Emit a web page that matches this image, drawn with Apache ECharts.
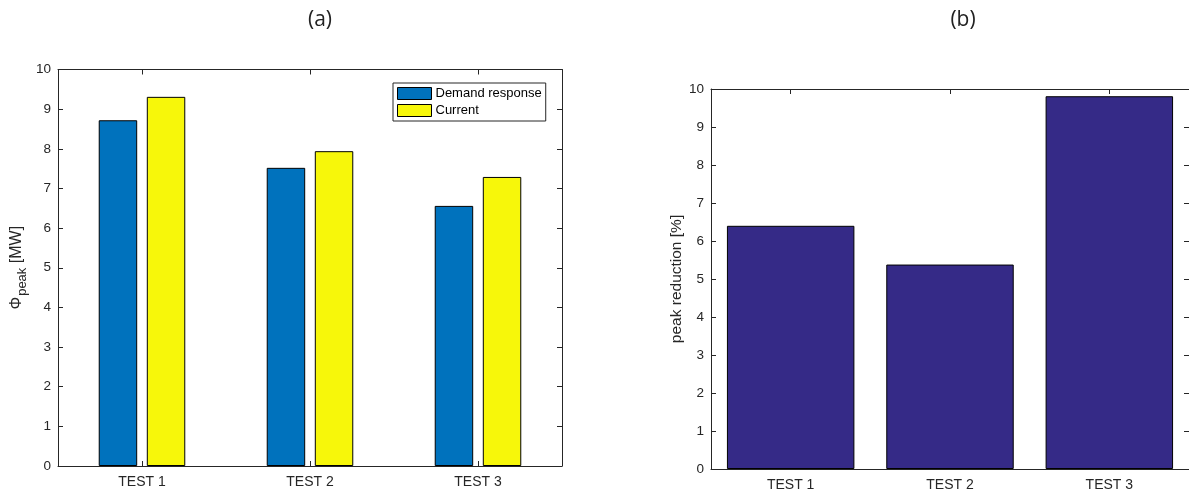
<!DOCTYPE html>
<html>
<head>
<meta charset="utf-8">
<script src="https://cdn.jsdelivr.net/npm/echarts@6/dist/echarts.min.js"></script>
<style>
html,body{margin:0;padding:0;background:#fff;}
#chart{width:1189px;height:495px;}
</style>
</head>
<body>
<div id="chart"></div>
<script>
const categories = ['TEST 1', 'TEST 2', 'TEST 3'];
const demandResponse = [8.72, 7.52, 6.56];
const current = [9.31, 7.94, 7.29];
const peakReduction = [6.40, 5.38, 9.81];
const panelTitles = ['(a)', '(b)'];
const yNameA = '{i|Φ}{s|peak}{i| [MW]}';
const yNameB = 'peak reduction [%]';

const axisColor = '#262626';
const font = 'Liberation Sans, Arial, sans-serif';

function xAx(gridIndex, pos, showLabel) {
  return {
    type: 'category', gridIndex: gridIndex, position: pos, data: categories,
    axisLine: {show: true, onZero: false, lineStyle: {color: axisColor, width: 1}},
    axisTick: {show: true, inside: true, length: 5, alignWithLabel: true, lineStyle: {color: axisColor}},
    axisLabel: {show: showLabel, color: axisColor, fontSize: 14, fontFamily: font, margin: 9},
    splitLine: {show: false}
  };
}
function yAx(gridIndex, pos, showLabel, name, nameGap) {
  const o = {
    type: 'value', gridIndex: gridIndex, position: pos, min: 0, max: 10, interval: 1,
    axisLine: {show: true, onZero: false, lineStyle: {color: axisColor, width: 1}},
    axisTick: {show: true, inside: true, length: 5, lineStyle: {color: axisColor}},
    axisLabel: {show: showLabel, color: axisColor, fontSize: 13.5, fontFamily: font, margin: 7},
    splitLine: {show: false}
  };
  if (name) {
    o.name = name;
    o.nameLocation = 'middle';
    o.nameRotate = 90;
    o.nameGap = nameGap;
    o.nameTextStyle = {
      color: axisColor, fontSize: 15.5, fontFamily: font,
      rich: {
        i: {fontSize: 16, fontFamily: font, color: axisColor, lineHeight: 20},
        s: {fontSize: 13, fontFamily: font, color: axisColor, lineHeight: 13, padding: [11, 0, 0, 1]}
      }
    };
  }
  return o;
}

const chart = echarts.init(document.getElementById('chart'), null, {renderer: 'canvas'});
chart.setOption({
  animation: false,
  backgroundColor: '#fff',
  title: [
    {text: panelTitles[0], left: 315, top: 5, textAlign: 'center',
     textStyle: {fontFamily: 'Open Sans, sans-serif', fontWeight: 'normal', fontSize: 21, color: '#222'}},
    {text: panelTitles[1], left: 958, top: 5, textAlign: 'center',
     textStyle: {fontFamily: 'Open Sans, sans-serif', fontWeight: 'normal', fontSize: 21, color: '#222'}}
  ],
  legend: {
    orient: 'vertical', left: 393, top: 83,
    data: ['Demand response', 'Current'],
    icon: 'rect', itemWidth: 34, itemHeight: 12, itemGap: 4,
    itemStyle: {borderWidth: 1, borderColor: '#000'},
    borderColor: axisColor, borderWidth: 1, padding: [4, 4, 4, 4], backgroundColor: '#fff',
    textStyle: {fontSize: 13, fontFamily: font, color: '#000', padding: [0, 0, 0, -1]}
  },
  grid: [
    {left: 58, top: 69.5, width: 504, height: 396.5, containLabel: false},
    {left: 711, top: 89, width: 482, height: 380, containLabel: false}
  ],
  xAxis: [xAx(0, 'bottom', true), xAx(0, 'top', false), xAx(1, 'bottom', true), xAx(1, 'top', false)],
  yAxis: [
    yAx(0, 'left', true, yNameA, 31),
    yAx(0, 'right', false),
    yAx(1, 'left', true, yNameB, 26),
    yAx(1, 'right', false)
  ],
  series: [
    {name: 'Demand response', type: 'bar', xAxisIndex: 0, yAxisIndex: 0, data: demandResponse,
     barWidth: '22.9%', barGap: '25%',
     itemStyle: {color: '#0072BD', borderColor: '#000', borderWidth: 1}},
    {name: 'Current', type: 'bar', xAxisIndex: 0, yAxisIndex: 0, data: current,
     barWidth: '22.9%', barGap: '25%',
     itemStyle: {color: '#F7F70A', borderColor: '#000', borderWidth: 1}},
    {name: 'Peak reduction', type: 'bar', xAxisIndex: 2, yAxisIndex: 2, data: peakReduction,
     barWidth: '80%',
     itemStyle: {color: '#352A87', borderColor: '#000', borderWidth: 1}}
  ]
});
</script>
</body>
</html>
